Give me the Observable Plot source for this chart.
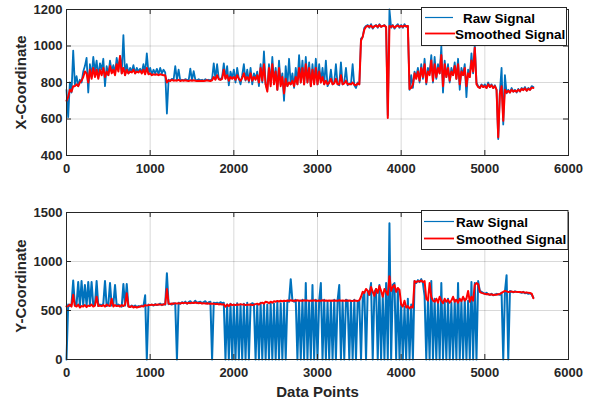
<!DOCTYPE html>
<html><head><meta charset="utf-8">
<script src="https://cdn.jsdelivr.net/npm/d3@7"></script>
<script src="https://cdn.jsdelivr.net/npm/@observablehq/plot@0.6"></script>
<style>
html,body{margin:0;padding:0;background:#fff;}
#chart{width:601px;height:405px;position:relative;overflow:hidden;}
#chart svg{display:block;}
</style></head><body><div id="chart"></div>
<script>
// sample spacing of the data points
const STEP = 20;
const xTicks = [0, 1000, 2000, 3000, 4000, 5000, 6000];
const yTicksTop = [400, 600, 800, 1000, 1200];
const yTicksBottom = [0, 500, 1000, 1500];
const seriesNames = ["Raw Signal", "Smoothed Signal"];

const rawX = [
760,610,800,745,975,790,835,780,815,800,
860,890,935,745,900,830,940,860,920,830,
905,870,930,780,890,840,920,860,895,850,
935,870,945,850,1060,840,900,850,880,860,
895,850,880,860,875,855,900,850,960,850,
880,845,870,850,875,845,880,850,870,855,
630,815,810,820,815,890,815,870,810,815,
812,818,815,812,876,812,862,815,812,818,
812,815,810,818,812,815,812,820,905,818,
900,820,815,830,905,822,890,784,860,825,
870,800,880,820,790,840,900,810,870,800,
880,790,850,820,860,780,900,800,970,790,
760,900,790,940,800,880,760,920,790,850,
700,890,780,930,790,850,770,880,790,950,
800,920,790,940,800,910,780,900,800,930,
790,900,800,880,790,920,780,800,870,790,
800,900,790,785,910,790,800,880,785,795,
790,900,785,770,800,790,1040,1050,1100,1110,
1115,1100,1120,1095,1110,1115,1100,1120,1105,1110,
1115,1100,620,1200,1100,1115,1095,1110,1120,1100,
1115,1100,1120,1105,1110,760,840,770,860,830,
880,800,900,820,930,790,880,850,950,800,
940,820,900,850,1000,745,920,830,900,800,
880,840,910,820,930,760,880,840,900,720,
870,830,960,850,1010,800,780,770,790,775,
790,770,800,775,790,770,785,760,490,750,
880,570,840,740,760,745,770,750,760,745,
765,750,770,760,775,755,770,760,780,775
];
const smoothX = [
700,720,760,750,780,780,790,780,800,810,
830,860,850,800,870,820,880,830,870,820,
870,840,880,830,860,840,890,850,870,840,
900,860,945,850,880,840,870,850,860,855,
870,850,860,855,865,850,870,845,880,845,
850,840,845,842,845,840,845,842,840,840,
800,812,808,815,810,812,810,815,808,812,
810,812,810,808,812,810,812,810,808,810,
808,810,808,810,812,810,808,812,830,815,
840,818,815,820,870,820,840,810,830,820,
830,815,840,820,810,825,850,815,830,810,
850,810,830,815,840,800,880,810,900,790,
750,880,780,900,790,860,760,880,780,830,
740,820,780,800,790,810,780,830,790,880,
800,880,790,900,800,880,780,870,790,880,
790,860,800,830,790,810,790,800,820,790,
795,820,790,790,840,790,795,810,790,792,
790,800,788,785,795,790,1030,1050,1090,1105,
1110,1105,1112,1100,1108,1112,1105,1115,1105,1110,
1112,1105,605,1110,1105,1112,1100,1108,1112,1105,
1110,1105,1112,1108,1110,765,770,790,850,820,
860,810,880,830,900,800,860,840,920,810,
900,830,880,850,950,780,900,830,880,810,
860,840,890,820,900,790,860,840,880,780,
850,830,920,860,990,790,775,770,785,775,
780,770,790,775,785,770,780,760,500,740,
780,590,760,745,755,745,760,750,755,750,
760,752,765,758,768,755,765,760,772,770
];
const rawY = [
0,560,545,560,805,550,560,790,545,800,
555,760,545,790,560,790,550,560,800,545,
560,550,570,800,545,560,780,550,565,760,
545,560,550,540,770,550,770,545,535,550,
540,550,535,545,540,550,545,655,0,560,
555,560,550,565,555,560,570,555,565,560,
880,565,570,560,575,565,0,580,570,585,
575,590,570,585,595,575,580,600,575,585,
590,575,585,595,570,585,590,0,580,575,
580,570,585,575,580,0,560,0,570,0,
560,0,575,0,560,0,570,0,580,0,
560,575,565,0,560,0,580,0,570,0,
560,0,580,0,570,0,590,0,575,0,
580,0,600,590,820,600,590,610,0,600,
0,610,0,780,0,600,0,760,0,610,
0,600,780,0,610,0,590,0,600,0,
610,0,600,760,0,590,0,610,600,0,
600,0,610,0,590,600,0,620,690,0,
700,660,780,0,690,720,0,760,0,650,
0,780,0,1390,0,760,780,0,720,0,
560,0,540,0,620,0,560,0,800,780,
810,790,820,780,650,0,600,0,800,0,
620,0,590,0,780,0,600,0,620,0,
580,0,610,0,780,0,600,0,620,0,
600,0,790,0,780,0,800,700,690,680,
670,680,665,660,670,655,660,670,665,660,
680,0,690,860,0,700,690,685,695,690,
690,685,680,690,675,680,670,675,665,630
];
const smoothY = [
540,545,560,540,660,550,540,560,530,545,
540,555,535,550,545,560,540,550,640,545,
550,545,555,540,560,550,545,620,540,555,
545,550,540,555,545,560,675,540,535,545,
530,540,530,535,540,545,540,555,550,555,
555,560,555,560,558,562,560,558,562,565,
720,570,565,572,568,575,570,575,572,578,
575,580,572,578,575,580,576,582,578,575,
578,572,575,570,574,570,572,568,570,565,
568,562,566,560,564,540,560,545,565,555,
560,555,562,558,565,560,562,555,560,558,
562,555,560,565,570,560,575,580,570,590,
585,575,590,580,595,590,598,592,600,595,
600,596,602,598,605,600,602,598,605,600,
602,598,605,600,603,598,602,600,604,598,
600,602,598,604,600,603,599,602,600,603,
600,602,598,604,600,603,599,602,600,603,
600,598,602,600,598,603,640,690,680,720,
700,660,740,690,650,720,680,750,700,640,
720,690,660,850,700,740,760,690,730,710,
560,540,600,530,545,520,540,530,800,790,
800,795,805,790,800,620,600,780,640,600,
590,620,580,640,600,575,620,590,610,580,
600,640,590,610,580,620,595,640,600,620,
700,590,640,600,760,780,770,690,680,675,
670,665,668,660,665,658,662,660,665,668,
680,690,700,695,688,690,695,688,692,690,
688,690,685,688,682,685,680,678,672,625
];

const BLUE = "#0072BD", RED = "#FF0000", INK = "#262626";
const FONT = "'Liberation Sans', Arial, Helvetica, sans-serif";
const toRows = arr => arr.map((v, i) => ({i: i * STEP, v}));

function panel(o) {
  const W = 601, ml = 66, mr = 33;
  const fw = W - ml - mr, fh = o.height - o.marginTop - o.marginBottom;
  const marks = [
    Plot.gridX(xTicks, {stroke: "#000", strokeOpacity: 0.15}),
    Plot.gridY(o.yTicks, {stroke: "#000", strokeOpacity: 0.15}),
    Plot.lineY(toRows(o.raw), {x: "i", y: "v", stroke: BLUE, strokeWidth: o.rawWidth}),
    Plot.lineY(toRows(o.smooth), {x: "i", y: "v", stroke: RED, strokeWidth: 2}),
    Plot.frame({stroke: INK, strokeWidth: 1}),
    Plot.tickX(xTicks, {x: d => d, insetTop: fh - 5, stroke: INK}),
    Plot.tickX(xTicks, {x: d => d, insetBottom: fh - 5, stroke: INK}),
    Plot.tickY(o.yTicks, {y: d => d, insetRight: fw - 5, stroke: INK}),
    Plot.tickY(o.yTicks, {y: d => d, insetLeft: fw - 5, stroke: INK}),
    Plot.axisX(xTicks, {tickSize: 0, tickPadding: 8, tickFormat: d => String(d), label: null, fontSize: 13, fontWeight: "bold", fill: INK}),
    Plot.axisY(o.yTicks, {tickSize: 0, tickPadding: 4, tickFormat: d => String(d), label: null, fontSize: 13, fontWeight: "bold", fill: INK}),
    Plot.text([o.yLabel], {frameAnchor: "left", dx: -45, rotate: -90, textAnchor: "middle", lineAnchor: "middle", text: d => d, fontSize: 15, fontWeight: "bold", fill: INK})
  ];
  if (o.xLabel) marks.push(Plot.text([o.xLabel], {frameAnchor: "bottom", dy: 33, textAnchor: "middle", lineAnchor: "middle", text: d => d, fontSize: 15, fontWeight: "bold", fill: INK}));
  const svg = Plot.plot({
    width: W, height: o.height,
    marginLeft: ml, marginRight: mr, marginTop: o.marginTop, marginBottom: o.marginBottom,
    style: {fontFamily: FONT, background: "#fff", color: INK, overflow: "visible"},
    x: {domain: [0, 6000], label: null},
    y: {domain: o.yDomain, label: null},
    marks
  });
  const L = o.legend;
  const g = d3.select(svg).append("g").attr("font-family", FONT).attr("font-weight", "bold").attr("font-size", 13.5).attr("fill", "#000").attr("text-anchor", "start");
  g.append("rect").attr("x", L.x).attr("y", L.y).attr("width", L.w).attr("height", L.h).attr("fill", "#fff").attr("stroke", INK).attr("stroke-width", 1);
  g.append("line").attr("x1", L.lx1).attr("x2", L.lx2).attr("y1", L.ly1).attr("y2", L.ly1).attr("stroke", BLUE).attr("stroke-width", 1.2);
  g.append("line").attr("x1", L.lx1).attr("x2", L.lx2b).attr("y1", L.ly2).attr("y2", L.ly2).attr("stroke", RED).attr("stroke-width", 1.8);
  g.append("text").attr("x", L.tx1).attr("y", L.ty1).attr("text-anchor", "start").text(seriesNames[0]);
  g.append("text").attr("x", L.tx2).attr("y", L.ty2).attr("text-anchor", "start").text(seriesNames[1]);
  return svg;
}

const chart = document.getElementById("chart");
chart.appendChild(panel({
  raw: rawX, smooth: smoothX, yDomain: [400, 1200], yTicks: yTicksTop, yLabel: "X-Coordinate",
  height: 190, marginTop: 9, marginBottom: 35, rawWidth: 1.8,
  legend: {x: 421.5, y: 7.5, w: 145, h: 38, lx1: 425, lx2: 453, lx2b: 455, ly1: 17.5, ly2: 33.5, tx1: 463, ty1: 22.5, tx2: 455, ty2: 38.5}
}));
chart.appendChild(panel({
  raw: rawY, smooth: smoothY, yDomain: [0, 1500], yTicks: yTicksBottom, yLabel: "Y-Coordinate", xLabel: "Data Points",
  height: 215, marginTop: 22, marginBottom: 46, rawWidth: 2.0,
  legend: {x: 421.5, y: 20.5, w: 146.5, h: 39, lx1: 424, lx2: 454, lx2b: 454, ly1: 31.5, ly2: 48.5, tx1: 456, ty1: 36.5, tx2: 456, ty2: 53.5}
}));
</script></body></html>
